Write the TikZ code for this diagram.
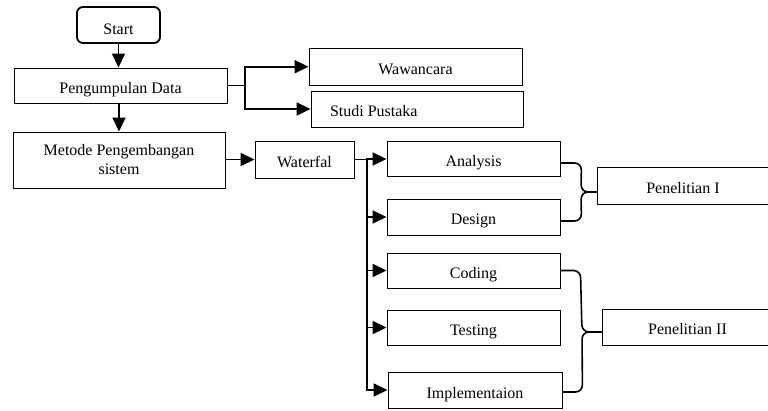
\documentclass[tikz,border=0pt]{standalone}
\usepackage{fontspec}
\setmainfont{Liberation Serif}
\usetikzlibrary{arrows.meta}
\begin{document}
\begin{tikzpicture}[x=1pt,y=-1pt,
  box/.style={draw, line width=0.9pt, inner sep=0pt, font=\fontsize{16}{19}\selectfont},
  box1/.style={box, text height=16pt, text depth=0pt},
  arr/.style={line width=1.7pt, -{Triangle[length=14pt,width=13pt]}},
  ln/.style={line width=1.7pt},
  brace/.style={line width=1.6pt, rounded corners=7pt}]
\useasboundingbox (0,0) rectangle (768,411);
\clip (0,0) rectangle (768,411);

\node[box1, rounded corners=6pt, line width=1.8pt, minimum width=83pt, minimum height=36pt, text height=20pt] (start) at (118.5,25) {Start};
\node[box1, minimum width=213pt, minimum height=35pt] (pd) at (120.5,85.5) {Pengumpulan Data};
\node[box, minimum width=212pt, minimum height=56pt, align=center] (met) at (119,160) {Metode Pengembangan\\sistem};
\node[box1, minimum width=213pt, minimum height=36.5pt] (waw) at (415.5,66.75) {Wawancara};
\node[box1, minimum width=212pt, minimum height=36pt] (studi) at (417,109) {\makebox[174pt][l]{Studi Pustaka}};
\node[box1, minimum width=99pt, minimum height=37pt] (wf) at (304.5,159.5) {Waterfal};
\node[box1, minimum width=173pt, minimum height=35pt] (ana) at (473.5,159) {Analysis};
\node[box1, minimum width=173pt, minimum height=36pt] (des) at (473.5,217) {Design};
\node[box1, minimum width=173pt, minimum height=35pt] (cod) at (473.5,270.5) {Coding};
\node[box1, minimum width=173pt, minimum height=35pt] (tes) at (473.5,327.5) {Testing};
\node[box1, minimum width=174pt, minimum height=36pt] (imp) at (475,390) {Implementaion};
\node[box1, minimum width=172pt, minimum height=37pt] (pen1) at (683,185.5) {Penelitian I};
\node[box1, minimum width=171pt, minimum height=36pt] (pen2) at (687.5,327) {Penelitian II};

\draw[arr] (start.south) -- (start.south |- pd.north);
\draw[arr] (met.north |- pd.south) -- (met.north);

\coordinate (j1) at (245,85.5);
\draw[ln] (pd.east) -- (j1);
\draw[arr] (j1) |- (waw.west);
\draw[arr] (j1) |- (studi.west);

\draw[arr] (met.east |- wf.west) -- (wf.west);

\coordinate (j2) at (367,159.5);
\draw[ln] (wf.east) -- (j2);
\draw[arr] (j2) |- (ana.west);
\draw[arr] (j2) |- (des.west);
\draw[arr] (j2) |- (cod.west);
\draw[arr] (j2) |- (tes.west);
\draw[arr] (j2) |- (imp.west);

\draw[brace] ([yshift=-4pt]ana.east) -- ++(21,0) -- (581,192) -- ([yshift=-6.5pt]pen1.west);
\draw[brace] ([yshift=-4pt]des.east) -- ++(21,0) -- (581,192) -- ([yshift=-6.5pt]pen1.west);
\draw[brace] (cod.east) -- ++(20,0) -- (582,332) -- ([yshift=-5pt]pen2.west);
\draw[brace] ([yshift=-2pt]imp.east) -- ++(20,0) -- (582,332) -- ([yshift=-5pt]pen2.west);
\end{tikzpicture}
\end{document}
